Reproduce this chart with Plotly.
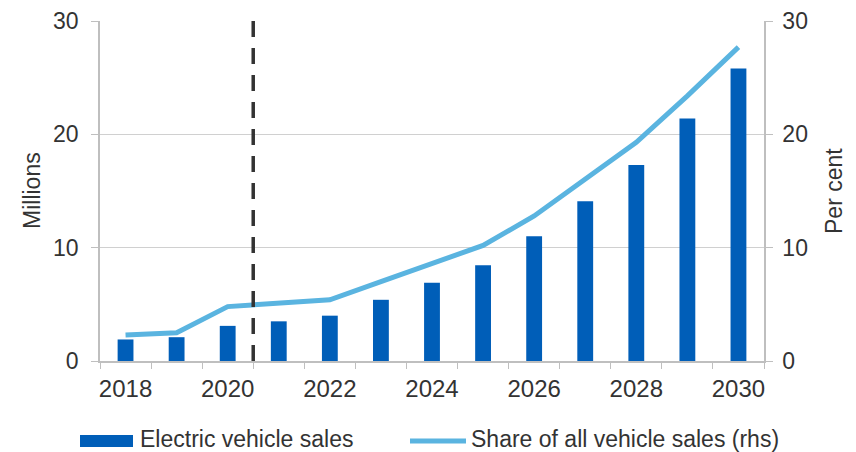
import plotly.graph_objects as go

years = ["2018", "2019", "2020", "2021", "2022", "2023", "2024",
         "2025", "2026", "2027", "2028", "2029", "2030"]
ev_sales = [1.9, 2.1, 3.1, 3.5, 4.0, 5.4, 6.9, 8.45, 11.0, 14.1, 17.3, 21.4, 25.8]
share = [2.3, 2.5, 4.8, 5.1, 5.4, 7.0, 8.6, 10.2, 12.8, 16.0, 19.3, 23.4, 27.7]
x_labels = ["2018", "", "2020", "", "2022", "", "2024", "", "2026", "", "2028", "", "2030"]
y_ticks = [0, 10, 20, 30]
forecast_start = 2.5  # boundary between 2020 and 2021 (category index)

BAR = "#005EB8"
LINE = "#5AB4E0"
TXT = "#333333"
AX = "#BFBFBF"
GRID = "#D0D0D0"
FONT = "Arial, Liberation Sans, sans-serif"
FS = 23
LEG_FS = 23
LEG_Y = (361 - 439) / 340

fig = go.Figure()
fig.add_trace(go.Bar(x=years, y=ev_sales, marker=dict(color=BAR, line=dict(width=0)),
                     width=0.31, name="Electric vehicle sales", showlegend=False, yaxis="y"))
fig.add_trace(go.Scatter(x=years, y=share, mode="lines", line=dict(color=LINE, width=5),
                         name="Share of all vehicle sales (rhs)", showlegend=False, yaxis="y2"))

fig.add_shape(type="line", xref="x", yref="y", x0=forecast_start, x1=forecast_start,
              y0=0, y1=30, line=dict(color="#333333", width=3.5, dash="16px,11px"))

# manual legend
fig.add_shape(type="rect", xref="paper", yref="paper",
              x0=(80 - 100) / 664, x1=(133 - 100) / 664,
              y0=(361 - 447) / 340, y1=(361 - 435) / 340,
              fillcolor=BAR, line=dict(width=0))
fig.add_shape(type="line", xref="paper", yref="paper",
              x0=(410 - 100) / 664, x1=(466 - 100) / 664,
              y0=(361 - 441) / 340, y1=(361 - 441) / 340,
              line=dict(color=LINE, width=5))
fig.add_annotation(text="Electric vehicle sales", xref="paper", yref="paper",
                   x=(138 - 100) / 664, y=LEG_Y, xanchor="left", yanchor="middle",
                   showarrow=False, font=dict(size=LEG_FS, color=TXT, family=FONT))
fig.add_annotation(text="Share of all vehicle sales (rhs)", xref="paper", yref="paper",
                   x=(469 - 100) / 664, y=LEG_Y, xanchor="left", yanchor="middle",
                   showarrow=False, font=dict(size=LEG_FS, color=TXT, family=FONT))

# axis titles
fig.add_annotation(text="Millions", xref="paper", yref="paper", x=(32 - 100) / 664, y=0.5,
                   textangle=-90, showarrow=False, xanchor="center", yanchor="middle",
                   font=dict(size=FS, color=TXT, family=FONT))
fig.add_annotation(text="Per cent", xref="paper", yref="paper", x=(834 - 100) / 664, y=0.5,
                   textangle=-90, showarrow=False, xanchor="center", yanchor="middle",
                   font=dict(size=FS, color=TXT, family=FONT))

fig.update_layout(
    width=856, height=452,
    margin=dict(l=100, r=92, t=21, b=91),
    paper_bgcolor="white", plot_bgcolor="white",
    font=dict(family=FONT, size=FS, color=TXT),
    xaxis=dict(type="category", tickmode="array", tickvals=years, ticktext=x_labels,
               tickson="boundaries", ticks="outside", ticklen=6, tickcolor=AX,
               showline=True, linecolor=AX, linewidth=1.5, showgrid=False, tickangle=0,
               tickfont=dict(size=24, color=TXT), automargin=False, ticklabelstandoff=5,
               range=[-0.5, 12.5]),
    yaxis=dict(range=[0, 30], tickvals=y_ticks, ticks="outside", ticklen=7, tickcolor=AX,
               showline=True, linecolor=AX, linewidth=1.5, showgrid=True, gridcolor=GRID,
               gridwidth=1, zeroline=False, tickfont=dict(size=FS, color=TXT),
               automargin=False, ticklabelstandoff=8),
    yaxis2=dict(range=[0, 30], tickvals=y_ticks, ticks="outside", ticklen=7, tickcolor=AX,
                overlaying="y", side="right", showline=True, linecolor=AX, linewidth=1.5,
                showgrid=False, zeroline=False, tickfont=dict(size=FS, color=TXT),
                automargin=False, ticklabelstandoff=5),
)

fig.write_html("out.html", config={"displayModeBar": False},
               post_script="document.body.style.margin='0px';")
